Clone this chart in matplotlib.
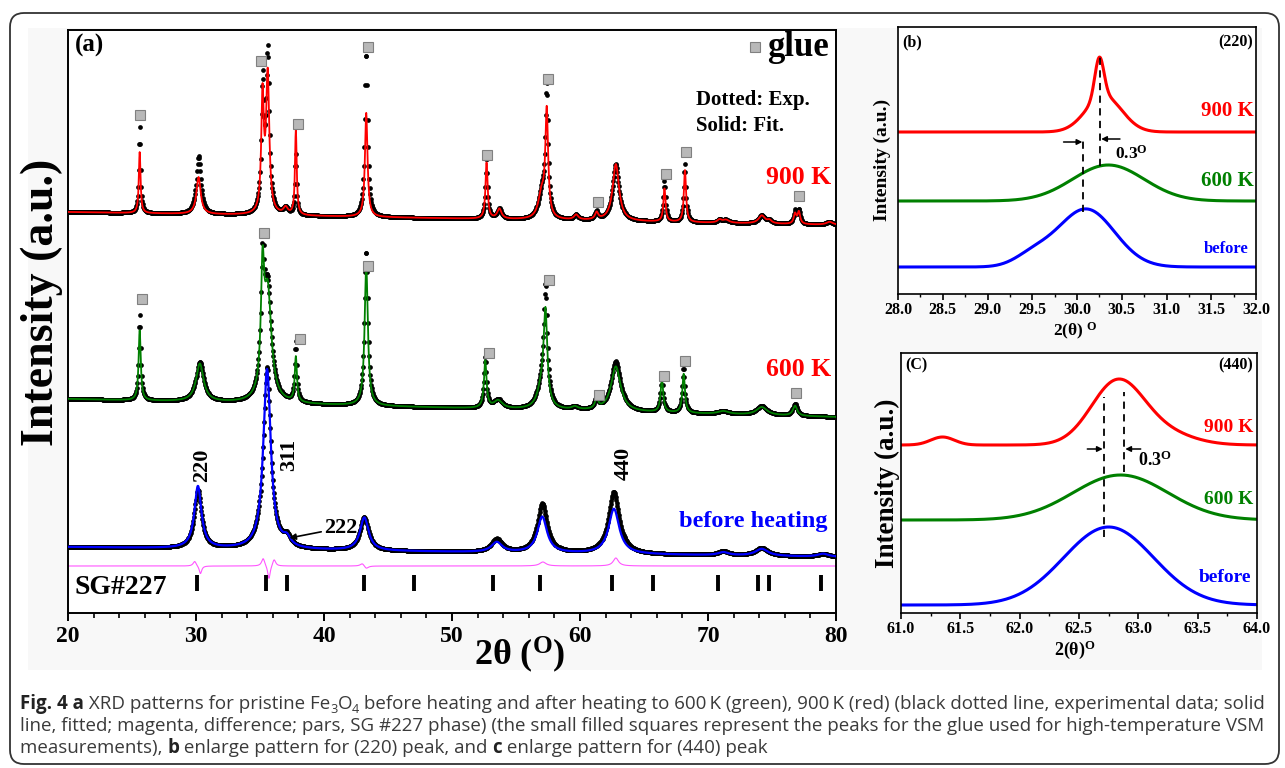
import numpy as np
import matplotlib
matplotlib.use("Agg")
import matplotlib.pyplot as plt
from matplotlib import font_manager
from matplotlib.patches import FancyBboxPatch, Rectangle
from matplotlib.transforms import IdentityTransform
from matplotlib.ticker import MultipleLocator

W, H = 1285, 768

# ---------------- panel (a): peaks ----------------
# position (deg 2theta), fitted height, measured height, half width
# heights are arbitrary units above each pattern's own background
before_bg = [66, 56]            # background at 20 and 80 deg
before_pos = [30.15, 35.55, 37.1, 43.15, 53.5, 57.05, 62.65, 71.2, 74.2, 79.0]
before_fit = [62, 180, 8, 33, 10, 36, 45, 3, 7, 3]
before_exp = [58, 182, 9, 33, 13, 49, 62, 4, 8, 3]
before_hw = [0.33, 0.35, 0.35, 0.4, 0.5, 0.45, 0.5, 0.5, 0.6, 0.5]

diff_bg = 47
diff_pos = [29.9, 30.35, 35.25, 35.7, 36.1, 43.0, 43.3, 57.1, 62.8]
diff_amp = [5, -8, 8, -14, 7, 3, -3, 4, 8]
diff_hw = [0.15, 0.12, 0.15, 0.12, 0.15, 0.2, 0.2, 0.3, 0.25]

green_bg = [214, 196]
green_pos = [25.6, 30.3, 35.2, 35.6, 37.8, 43.3, 52.6, 53.6, 57.0, 57.3, 59.6,
             61.3, 62.8, 66.4, 68.1, 71.2, 74.2, 76.8]
green_fit = [70, 38, 110, 110, 45, 140, 47, 8, 20, 90, 3, 10, 45, 33, 39, 3, 8, 10]
green_exp = [85, 40, 125, 112, 60, 155, 50, 9, 22, 112, 3, 12, 50, 38, 45, 3, 9, 12]
green_hw = [0.1, 0.35, 0.15, 0.35, 0.1, 0.15, 0.12, 0.4, 0.4, 0.17, 0.3,
            0.15, 0.45, 0.12, 0.12, 0.5, 0.5, 0.2]

red_bg = [401, 388]
red_pos = [25.6, 30.2, 35.2, 35.6, 37.0, 37.8, 43.3, 52.7, 53.7, 57.0, 57.4, 59.7,
           61.3, 62.8, 66.6, 68.2, 70.9, 71.4, 74.2, 74.8, 76.8, 77.1, 79.5]
red_fit = [61, 37, 115, 138, 7, 85, 104, 56, 10, 25, 105, 5,
           7, 57, 33, 52, 3, 3, 8, 3, 10, 12, 3]
red_exp = [86, 58, 125, 160, 7, 60, 165, 62, 10, 25, 128, 5,
           8, 57, 40, 58, 3, 3, 8, 3, 13, 14, 3]
red_hw = [0.08, 0.2, 0.12, 0.15, 0.2, 0.08, 0.12, 0.1, 0.2, 0.3, 0.13, 0.2,
          0.15, 0.3, 0.1, 0.1, 0.2, 0.3, 0.3, 0.2, 0.12, 0.12, 0.3]

# glue peaks (grey squares)
red_glue_x = [25.6, 35.1, 38.0, 43.4, 52.7, 57.5, 61.4, 66.7, 68.3, 77.1]
red_glue_y = [498, 552, 489, 566, 458, 534, 411, 439, 461, 417]
green_glue_x = [25.8, 35.3, 38.1, 43.4, 52.9, 57.6, 61.5, 66.6, 68.2, 76.9]
green_glue_y = [314, 380, 274, 347, 260, 333, 218, 237, 252, 220]

# SG #227 reflection positions
sg_pos = [30.1, 35.5, 37.1, 43.1, 47.0, 53.2, 56.9, 62.5, 65.7, 70.8, 73.9, 74.8, 78.8]

# ---------------- panel (b): (220) ----------------
b_red_bg, b_red_pos, b_red_h, b_red_s = 162, [30.25, 30.3], [40, 36], [0.05, 0.2]
b_green_bg, b_green_pos, b_green_h, b_green_s = 93, [30.35], [36], [0.4]
b_blue_bg, b_blue_pos, b_blue_h, b_blue_s = 27, [30.1, 29.5], [58, 10], [0.32, 0.2]

# ---------------- panel (c): (440) ----------------
c_red_bg, c_red_pos, c_red_h, c_red_s = 168, [62.82, 63.2, 61.35], [62, 12, 8], [0.22, 0.25, 0.1]
c_green_bg, c_green_pos, c_green_h, c_green_s = 93, [62.85], [45], [0.4]
c_blue_bg, c_blue_pos, c_blue_h, c_blue_s = 8, [62.75], [78], [0.38]


def lorentz(x, pos, h, hw):
    y = np.zeros_like(x)
    for p, a, w in zip(pos, h, hw):
        y += a / (1 + ((x - p) / w) ** 2)
    return y


def gauss(x, pos, h, s):
    y = np.zeros_like(x)
    for p, a, w in zip(pos, h, s):
        y += a * np.exp(-(x - p) ** 2 / (2 * w ** 2))
    return y


def have(name):
    try:
        font_manager.findfont(font_manager.FontProperties(family=name),
                              fallback_to_default=False)
        return True
    except Exception:
        return False


SERIF = 'Liberation Serif'
plt.rcParams['font.family'] = SERIF
plt.rcParams['font.weight'] = 'bold'
plt.rcParams['mathtext.fontset'] = 'custom'
plt.rcParams['mathtext.rm'] = 'Liberation Serif:bold'
plt.rcParams['mathtext.bf'] = 'Liberation Serif:bold'
plt.rcParams['mathtext.it'] = 'Liberation Serif:bold:italic'

RED, GREEN, BLUE = '#ff0000', '#008000', '#0000ff'


def rect(l, t, r, b):
    return [l / W, 1 - b / H, (r - l) / W, (b - t) / H]


def ftxt(x, y, s, **kw):
    return fig.text(x / W, 1 - y / H, s, **kw)


fig = plt.figure(figsize=(W / 100, H / 100), dpi=100)
fig.patch.set_facecolor('white')
fig.patches.append(Rectangle((28 / W, 1 - 670 / H), (1262 - 28) / W, (670 - 28) / H,
                             transform=fig.transFigure, facecolor='#f8f8f8',
                             edgecolor='none', zorder=-10))
fig.patches.append(FancyBboxPatch((10, 4), 1269, 751,
                                  boxstyle='round,pad=0,rounding_size=14',
                                  transform=IdentityTransform(), fill=False,
                                  edgecolor='#333333', lw=1.3))

# ================= panel (a) =================
ax = fig.add_axes(rect(68, 30, 836, 613))
x = np.arange(20, 80.001, 0.025)
xs = np.arange(20, 80.001, 0.04)


def pattern(bg, pos, fit, exp, hw, color, lw):
    base = bg[0] + (bg[1] - bg[0]) * (x - 20) / 60
    base_s = bg[0] + (bg[1] - bg[0]) * (xs - 20) / 60
    ax.plot(xs, base_s + lorentz(xs, pos, exp, hw), 'o', color='black',
            ms=3.4, mew=0, zorder=2)
    ax.plot(x, base + lorentz(x, pos, fit, hw), color=color, lw=lw, zorder=3)


pattern(before_bg, before_pos, before_fit, before_exp, before_hw, BLUE, 1.6)
pattern(green_bg, green_pos, green_fit, green_exp, green_hw, GREEN, 1.3)
pattern(red_bg, red_pos, red_fit, red_exp, red_hw, RED, 1.3)
ax.plot(x, diff_bg + lorentz(x, diff_pos, diff_amp, diff_hw), color='#ff55ff', lw=0.8)

sq = dict(ls='none', marker='s', ms=7, mfc='#b8b8b8', mec='#808080', mew=0.8, zorder=4)
ax.plot(red_glue_x, red_glue_y, **sq)
ax.plot(green_glue_x, green_glue_y, **sq)
ax.plot(sg_pos, [30] * len(sg_pos), ls='none', marker='|', ms=11, mew=2.8, color='black')

ax.set_xlim(20, 80)
ax.set_ylim(0, 583)
ax.set_yticks([])
ax.xaxis.set_major_locator(MultipleLocator(10))
ax.xaxis.set_minor_locator(MultipleLocator(2))
ax.tick_params(axis='x', which='major', length=6, width=1.4, labelsize=17, pad=3)
ax.tick_params(axis='x', which='minor', length=3.5, width=1.2)
for lab in ax.get_xticklabels():
    lab.set_fontweight('bold')
for s in ax.spines.values():
    s.set_linewidth(1.4)

ax.text(20.5, 568, '(a)', fontsize=18, fontweight='bold', va='center')
ax.plot([73.7], [566], **sq)
ax.text(74.6, 566, 'glue', fontsize=25, fontweight='bold', va='center')
ax.text(69.1, 513, 'Dotted: Exp.', fontsize=15, fontweight='bold', va='center')
ax.text(69.1, 487, 'Solid: Fit.', fontsize=15, fontweight='bold', va='center')
ax.text(79.6, 435, '900 K', fontsize=18.5, fontweight='bold', color=RED, ha='right', va='center')
ax.text(79.6, 243, '600 K', fontsize=18.5, fontweight='bold', color=RED, ha='right', va='center')
ax.text(79.3, 91, 'before heating', fontsize=17.5, fontweight='bold', color=BLUE,
        ha='right', va='center')
ax.text(30.5, 148, '220', fontsize=16, fontweight='bold', rotation=90, ha='center', va='center')
ax.text(37.3, 158, '311', fontsize=16, fontweight='bold', rotation=90, ha='center', va='center')
ax.text(63.4, 150, '440', fontsize=16, fontweight='bold', rotation=90, ha='center', va='center')
ax.annotate('222', xy=(37.3, 75), xytext=(40.0, 85), fontsize=16, fontweight='bold',
            va='center', arrowprops=dict(arrowstyle='-|>', color='black', lw=1.2,
                                         mutation_scale=9, shrinkA=0, shrinkB=0))
ax.text(20.5, 26, 'SG#227', fontsize=20, fontweight='bold', va='center')

ftxt(42, 302, 'Intensity (a.u.)', fontsize=33, fontweight='bold', rotation=90,
     ha='center', va='center')
ftxt(520, 655, r'2θ ($^{\mathrm{O}}$)', fontsize=26, fontweight='bold',
     ha='center', va='center')


# ================= panels (b) and (c) =================
def inset(r, xlim, ylim, step, curves):
    a = fig.add_axes(rect(*r))
    xx = np.linspace(xlim[0], xlim[1], 600)
    for bg, pos, h, s, c in curves:
        a.plot(xx, bg + gauss(xx, pos, h, s), color=c, lw=2.2)
    a.set_xlim(*xlim)
    a.set_ylim(*ylim)
    a.set_yticks([])
    a.xaxis.set_major_locator(MultipleLocator(step))
    a.xaxis.set_minor_locator(MultipleLocator(step / 2))
    a.xaxis.set_major_formatter('{x:.1f}')
    a.tick_params(axis='x', which='major', length=4, width=1.2, labelsize=11.5, pad=2)
    a.tick_params(axis='x', which='minor', length=2.5, width=1.0)
    for lab in a.get_xticklabels():
        lab.set_fontweight('bold')
    for s in a.spines.values():
        s.set_linewidth(1.2)
    return a


bx = inset((898, 27, 1256, 294), (28.0, 32.0), (0, 267), 0.5,
           [(b_red_bg, b_red_pos, b_red_h, b_red_s, RED),
            (b_green_bg, b_green_pos, b_green_h, b_green_s, GREEN),
            (b_blue_bg, b_blue_pos, b_blue_h, b_blue_s, BLUE)])
bx.text(28.05, 252, '(b)', fontsize=11.5, fontweight='bold', va='center')
bx.text(31.97, 252, '(220)', fontsize=11.5, fontweight='bold', ha='right', va='center')
bx.text(31.97, 183, '900 K', fontsize=15, fontweight='bold', color=RED, ha='right', va='center')
bx.text(31.97, 113, '600 K', fontsize=15, fontweight='bold', color=GREEN, ha='right', va='center')
bx.text(31.92, 45, 'before', fontsize=12, fontweight='bold', color=BLUE, ha='right', va='center')
bx.plot([30.07, 30.07], [82, 153], ls=(0, (4, 3)), color='black', lw=1.3)
bx.plot([30.26, 30.26], [128, 237], ls=(0, (4, 3)), color='black', lw=1.3)
arr = dict(arrowstyle='-|>', color='black', lw=1.1, mutation_scale=8, shrinkA=0, shrinkB=0)
bx.annotate('', xy=(30.06, 152), xytext=(29.85, 152), arrowprops=arr)
bx.annotate('', xy=(30.27, 155), xytext=(30.48, 155), arrowprops=arr)
bx.text(30.42, 140, r'0.3$^{\mathrm{O}}$', fontsize=12.5, fontweight='bold', va='center')
ftxt(882, 160, 'Intensity (a.u.)', fontsize=14, fontweight='bold', rotation=90,
     ha='center', va='center')
ftxt(1075, 331, r'2(θ) $^{\mathrm{O}}$', fontsize=12.5, fontweight='bold',
     ha='center', va='center')

cx = inset((901, 353, 1257, 613), (61.0, 64.0), (0, 260), 0.5,
           [(c_red_bg, c_red_pos, c_red_h, c_red_s, RED),
            (c_green_bg, c_green_pos, c_green_h, c_green_s, GREEN),
            (c_blue_bg, c_blue_pos, c_blue_h, c_blue_s, BLUE)])
cx.text(61.04, 248, '(C)', fontsize=11.5, fontweight='bold', va='center')
cx.text(63.97, 248, '(440)', fontsize=11.5, fontweight='bold', ha='right', va='center')
cx.text(63.97, 185, '900 K', fontsize=14, fontweight='bold', color=RED, ha='right', va='center')
cx.text(63.97, 114, '600 K', fontsize=14, fontweight='bold', color=GREEN, ha='right', va='center')
cx.text(63.95, 35, 'before', fontsize=14, fontweight='bold', color=BLUE, ha='right', va='center')
cx.plot([62.71, 62.71], [76, 216], ls=(0, (4, 3)), color='black', lw=1.3)
cx.plot([62.88, 62.88], [141, 221], ls=(0, (4, 3)), color='black', lw=1.3)
cx.annotate('', xy=(62.70, 164), xytext=(62.57, 164), arrowprops=arr)
cx.annotate('', xy=(62.89, 164), xytext=(63.02, 164), arrowprops=arr)
cx.text(63.0, 153, r'0.3$^{\mathrm{O}}$', fontsize=13, fontweight='bold', va='center')
ftxt(887, 483, 'Intensity (a.u.)', fontsize=19.5, fontweight='bold', rotation=90,
     ha='center', va='center')
ftxt(1075, 650, r'2(θ)$^{\mathrm{O}}$', fontsize=13, fontweight='bold',
     ha='center', va='center')

# ================= caption =================
CAP = 'Liberation Sans Narrow' if have('Liberation Sans Narrow') else 'Open Sans'
lines = [
    [('Fig. 4 a', 'b'), (' XRD patterns for pristine Fe', 'n'), ('3', 's'), ('O', 'n'),
     ('4', 's'), (' before heating and after heating to 600\u2009K (green), 900\u2009K (red) '
                  '(black dotted line, experimental data; solid', 'n')],
    [('line, fitted; magenta, difference; pars, SG #227 phase) (the small filled squares '
      'represent the peaks for the glue used for high-temperature VSM', 'n')],
    [('measurements), ', 'n'), ('b', 'b'), (' enlarge pattern for (220) peak, and ', 'n'),
     ('c', 'b'), (' enlarge pattern for (440) peak', 'n')],
]
ren = fig.canvas.get_renderer()


def seg_width(txt, kind, size):
    props = dict(fontsize=size * (0.68 if kind == 's' else 1), family=CAP,
                 fontweight='bold' if kind == 'b' else 'normal')
    t1 = fig.text(0, 0, 'x' + txt + 'x', **props)
    t2 = fig.text(0, 0, 'xx', **props)
    w = t1.get_window_extent(ren).width - t2.get_window_extent(ren).width
    t1.remove()
    t2.remove()
    return w


w10 = sum(seg_width(t, k, 10) for t, k in lines[0])
cap_size = 10 * 1245 / w10
for row, base in zip(lines, [709, 731, 753]):
    xp = 20
    for t, k in row:
        dy = 4 if k == 's' else 0
        ftxt(xp, base + dy, t, fontsize=cap_size * (0.68 if k == 's' else 1), family=CAP,
             fontweight='bold' if k == 'b' else 'normal',
             color='#222222' if k == 'b' else '#3a3a3a', va='baseline')
        xp += seg_width(t, k, cap_size)

fig.savefig('out.png', dpi=100)
